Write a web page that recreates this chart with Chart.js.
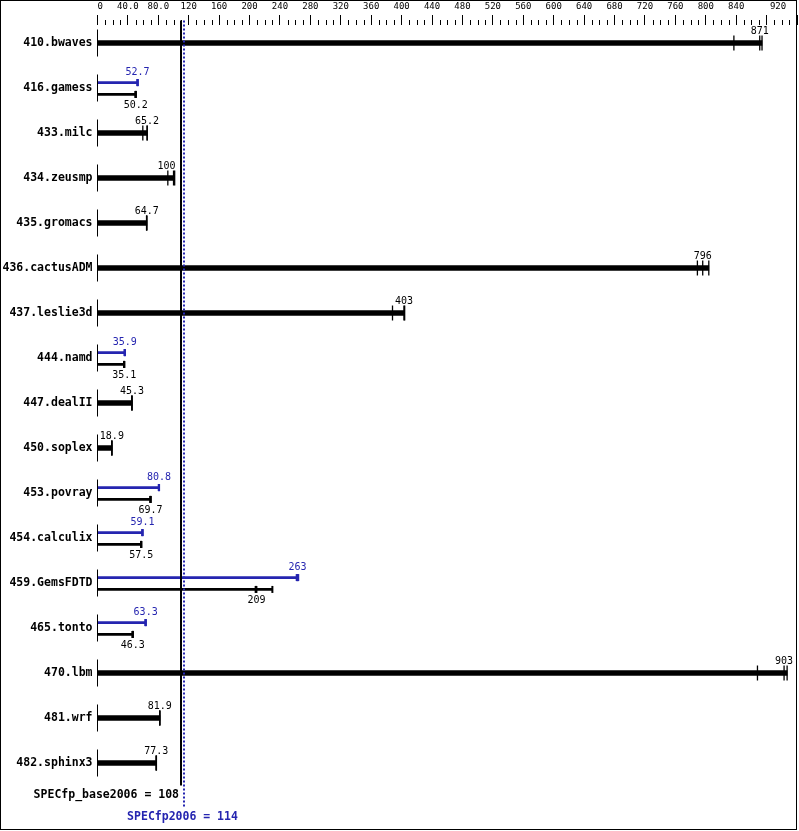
<!DOCTYPE html>
<html>
<head>
<meta charset="utf-8">
<script src="https://cdn.jsdelivr.net/npm/chart.js@4.4.1/dist/chart.umd.min.js"></script>
<style>
  html, body { margin: 0; padding: 0; background: #fff; }
  canvas { display: block; }
</style>
</head>
<body>
<canvas id="spec-chart" width="799" height="831"></canvas>
<script>
const categories = [
    '410.bwaves', '416.gamess', '433.milc', '434.zeusmp', '435.gromacs',
    '436.cactusADM', '437.leslie3d', '444.namd', '447.dealII', '450.soplex',
    '453.povray', '454.calculix', '459.GemsFDTD', '465.tonto', '470.lbm',
    '481.wrf', '482.sphinx3'
];

// median ratio per benchmark (the printed numbers)
const baseMedians = [871, 50.2, 65.2, 100, 64.7, 796, 403, 35.1, 45.3, 18.9, 69.7, 57.5, 209, 46.3, 903, 81.9, 77.3];
const peakMedians = [null, 52.7, null, null, null, null, null, 35.9, null, null, 80.8, 59.1, 263, 63.3, null, null, null];

// individual runs (the small tick marks)
const baseRuns = [
    [837, 871, 874],
    [50.0, 50.2, 50.4],
    [59.6, 65.2, 65.4],
    [92.5, 100, 101.5],
    [64.5, 64.7, 64.9],
    [789, 796, 804],
    [388, 403, 404],
    [34.9, 35.1, 35.2],
    [45.1, 45.3, 45.5],
    [18.8, 18.9, 19.0],
    [69.5, 69.7, 69.9],
    [57.3, 57.5, 57.6],
    [208, 209, 230],
    [46.1, 46.3, 46.5],
    [868, 903, 907],
    [81.7, 81.9, 82.1],
    [77.1, 77.3, 77.5]
];
const peakRuns = [
    null,
    [52.5, 52.7, 52.9],
    null, null, null, null, null,
    [35.7, 35.9, 36.0],
    null, null,
    [80.6, 80.8, 81.0],
    [58.9, 59.1, 59.3],
    [262, 263, 264],
    [63.1, 63.3, 63.5],
    null, null, null
];

const tickValues = [0, 40, 80, 120, 160, 200, 240, 280, 320, 360, 400, 440, 480, 520, 560, 600, 640, 680, 720, 760, 800, 840, 880, 920];
const tickLabels = ['0', '40.0', '80.0', '120', '160', '200', '240', '280', '320', '360', '400', '440', '480', '520', '560', '600', '640', '680', '720', '760', '800', '840', '', '920'];

const baseScore = 108;
const peakScore = 114;
const baseScoreLabel = 'SPECfp_base2006 = 108';
const peakScoreLabel = 'SPECfp2006 = 114';

const BLACK = '#000000';
const BLUE = '#2525b0';
const MONO = '"DejaVu Sans Mono", "Liberation Mono", monospace';
const PEAK_SHIFT = -0.12;
const BASE_SHIFT = 0.143;

const hasPeak = peakMedians.map((v) => v !== null);

const thickBars = [];
const thinBaseBars = [];
const peakBars = [];
const thickTicks = [];
const thinBaseTicks = [];
const peakTicks = [];
const rowStarts = [];

categories.forEach((name, i) => {
    rowStarts.push({ x: 0, y: i });
    if (hasPeak[i]) {
        peakBars.push({ x: Math.max(...peakRuns[i]), y: i + PEAK_SHIFT });
        thinBaseBars.push({ x: Math.max(...baseRuns[i]), y: i + BASE_SHIFT });
        peakRuns[i].forEach((v) => peakTicks.push({ x: v, y: i + PEAK_SHIFT }));
        baseRuns[i].forEach((v) => thinBaseTicks.push({ x: v, y: i + BASE_SHIFT }));
    } else {
        thickBars.push({ x: Math.max(...baseRuns[i]), y: i });
        baseRuns[i].forEach((v) => thickTicks.push({ x: v, y: i }));
    }
});

function tickSet(data, color, radius, width) {
    return {
        type: 'scatter',
        data,
        clip: false,
        pointStyle: 'line',
        pointRotation: 90,
        pointRadius: radius,
        pointHoverRadius: radius,
        pointBorderColor: color,
        pointBackgroundColor: color,
        pointBorderWidth: width
    };
}

function barSet(data, color, thickness) {
    return {
        type: 'bar',
        data,
        backgroundColor: color,
        borderWidth: 0,
        barThickness: thickness,
        grouped: false
    };
}

const specOverlay = {
    id: 'specOverlay',
    afterDatasetsDraw(chart) {
        const { ctx, scales: { x, y } } = chart;
        ctx.save();

        // minor ticks of the top axis
        ctx.strokeStyle = BLACK;
        ctx.lineWidth = 1;
        ctx.beginPath();
        for (let v = 10; v < 920; v += 10) {
            if (v % 40 === 0) continue;
            const px = Math.round(x.getPixelForValue(v)) + 0.5;
            ctx.moveTo(px, 20);
            ctx.lineTo(px, 25);
        }
        ctx.stroke();

        // value labels
        const basePx = x.getPixelForValue(baseScore);
        ctx.font = `10px ${MONO}`;
        ctx.textBaseline = 'middle';
        ctx.textAlign = 'left';
        const placeLabel = (value, yPx, color) => {
            const text = String(value);
            const w = ctx.measureText(text).width;
            let left = x.getPixelForValue(value) - w / 2;
            if (left < x.left + 1) left = x.left + 1;
            if (left < basePx && left + w > basePx - 2) left = basePx - 4 - w;
            ctx.fillStyle = color;
            ctx.fillText(text, left, yPx);
        };
        categories.forEach((name, i) => {
            if (hasPeak[i]) {
                placeLabel(peakMedians[i], y.getPixelForValue(i + PEAK_SHIFT) - 10.5, BLUE);
                placeLabel(baseMedians[i], y.getPixelForValue(i + BASE_SHIFT) + 11, BLACK);
            } else {
                placeLabel(baseMedians[i], y.getPixelForValue(i) - 11.5, BLACK);
            }
        });

        // overall score lines
        const top = y.getPixelForValue(-0.5);
        const lineEnd = y.getPixelForValue(categories.length - 0.5);
        const dotEnd = y.getPixelForValue(categories.length);
        const baseX = Math.round(basePx) + 1;
        const peakX = Math.round(x.getPixelForValue(peakScore));

        ctx.strokeStyle = BLACK;
        ctx.lineWidth = 2;
        ctx.beginPath();
        ctx.moveTo(baseX, top);
        ctx.lineTo(baseX, lineEnd);
        ctx.stroke();

        ctx.strokeStyle = BLUE;
        ctx.setLineDash([2, 2]);
        ctx.beginPath();
        ctx.moveTo(peakX, top);
        ctx.lineTo(peakX, dotEnd);
        ctx.stroke();
        ctx.setLineDash([]);

        ctx.font = `bold 11.5px ${MONO}`;
        ctx.fillStyle = BLACK;
        ctx.textAlign = 'right';
        ctx.fillText(baseScoreLabel, baseX - 2, lineEnd + 9.5);
        ctx.fillStyle = BLUE;
        ctx.textAlign = 'center';
        ctx.fillText(peakScoreLabel, peakX - 1.5, lineEnd + 32);

        // frame
        ctx.strokeStyle = BLACK;
        ctx.lineWidth = 1;
        ctx.strokeRect(0.5, 0.5, 796, 829);
        ctx.restore();
    }
};

new Chart(document.getElementById('spec-chart'), {
    type: 'bar',
    data: {
        datasets: [
            tickSet(rowStarts, BLACK, 13.5, 1),
            tickSet(thickTicks, BLACK, 7.5, 1.3),
            tickSet(peakTicks, BLUE, 3.5, 2),
            tickSet(thinBaseTicks, BLACK, 3.5, 2),
            barSet(peakBars, BLUE, 2),
            barSet(thinBaseBars, BLACK, 2),
            barSet(thickBars, BLACK, 5)
        ]
    },
    options: {
        indexAxis: 'y',
        responsive: false,
        animation: false,
        events: [],
        layout: {
            autoPadding: false,
            padding: { left: 0, right: 2, top: 0, bottom: 45.5 }
        },
        plugins: {
            legend: { display: false },
            tooltip: { enabled: false }
        },
        scales: {
            x: {
                type: 'linear',
                position: 'top',
                min: 0,
                max: 920,
                border: { display: false },
                grid: {
                    drawOnChartArea: false,
                    drawTicks: true,
                    tickLength: 10,
                    tickColor: BLACK,
                    tickWidth: 1
                },
                ticks: {
                    autoSkip: false,
                    maxRotation: 0,
                    minRotation: 0,
                    align: 'inner',
                    padding: 0,
                    color: BLACK,
                    font: { family: MONO, size: 9, lineHeight: '16.5px' },
                    // last label sits a little inside the frame
                    callback: (value, index, ticks) =>
                        index === ticks.length - 1 ? tickLabels[index] + '  ' : tickLabels[index]
                },
                afterBuildTicks: (scale) => {
                    scale.ticks = tickValues.map((v) => ({ value: v }));
                },
                afterFit: (scale) => {
                    scale.height = 25;
                    scale.paddingLeft = 0;
                    scale.paddingRight = 0;
                }
            },
            y: {
                type: 'linear',
                reverse: true,
                min: -0.4,
                max: categories.length - 0.5,
                offset: false,
                border: { display: false },
                grid: { display: false, drawTicks: false },
                ticks: {
                    autoSkip: false,
                    padding: 5,
                    color: BLACK,
                    font: { family: MONO, size: 11.5, weight: 'bold' },
                    callback: (value) => categories[value]
                },
                afterBuildTicks: (scale) => {
                    scale.ticks = categories.map((c, i) => ({ value: i }));
                },
                afterFit: (scale) => {
                    scale.width = 97.5;
                    scale.paddingTop = 0;
                    scale.paddingBottom = 0;
                }
            }
        }
    },
    plugins: [specOverlay]
});
</script>
</body>
</html>
